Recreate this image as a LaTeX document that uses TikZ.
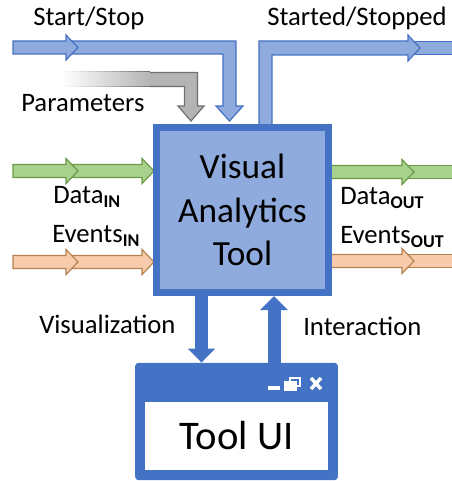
\documentclass[tikz,border=0pt]{standalone}
\usepackage{fontspec}
\setmainfont{Carlito}
\usetikzlibrary{arrows.meta}

\definecolor{darkblue}{HTML}{4472C4}
\definecolor{lightblue}{HTML}{8FAADC}
\definecolor{greenfill}{HTML}{A9D18E}
\definecolor{greenline}{HTML}{6A9A48}
\definecolor{orangefill}{HTML}{F8CBAD}
\definecolor{orangeline}{HTML}{B4834F}
\definecolor{grayfill}{HTML}{B4B4B4}
\definecolor{grayline}{HTML}{707070}

% block arrow: style, x start, x tip, y centre
\newcommand{\blockarrow}[4]{%
  \filldraw[#1] (#2,#4-6.5) -- (#3-12,#4-6.5) -- (#3-12,#4-12.5) -- (#3,#4)
    -- (#3-12,#4+12.5) -- (#3-12,#4+6.5) -- (#2,#4+6.5) -- cycle;}
% plain band: style, x start, x end, y centre
\newcommand{\blockband}[4]{%
  \filldraw[#1] (#2,#4-6.5) rectangle (#3,#4+6.5);}
\newcommand{\sub}[1]{\raisebox{-0.35ex}{\fontsize{13.5}{13.5}\selectfont\bfseries #1}}

\begin{document}
\begin{tikzpicture}[x=0.75pt,y=-0.75pt,
    blueband/.style={fill=lightblue,draw=darkblue,line width=0.9pt},
    greenband/.style={fill=greenfill,draw=greenline,line width=0.9pt},
    orangeband/.style={fill=orangefill,draw=orangeline,line width=0.9pt},
    label/.style={anchor=base west,inner sep=0pt,font=\fontsize{20}{20}\selectfont},
    bigarrow/.style={darkblue,line width=9.75pt,-{Triangle[width=20pt,length=10.5pt]}}]
    \useasboundingbox (0,0) rectangle (452,481);

    % Start/Stop
    \filldraw[blueband] (67,41) -- (236,41) -- (236,106) -- (243,106) -- (229.5,121)
      -- (216,106) -- (223,106) -- (223,54) -- (67,54) -- cycle;
    \blockarrow{blueband}{13}{78}{47.5}

    % Parameters
    \shade[left color=white,right color=grayline] (62,72) rectangle (150,87);
    \shade[left color=white,right color=grayfill] (62,73) rectangle (151,86);
    \fill[grayfill] (150,73) -- (197.5,73) -- (197.5,106) -- (204,106) -- (191,121)
      -- (178,106) -- (184.5,106) -- (184.5,86) -- (150,86) -- cycle;
    \draw[grayline,line width=0.9pt] (150,72.5) -- (197.5,72.5) -- (197.5,106) -- (204,106)
      -- (191,121) -- (178,106) -- (184.5,106) -- (184.5,86.5) -- (150,86.5);

    % Started/Stopped
    \blockband{blueband}{408}{470}{48}
    \filldraw[blueband] (259,130) -- (259,41) -- (408,41) -- (408,35) -- (420,48)
      -- (408,61) -- (408,55) -- (272,55) -- (272,130) -- cycle;

    % inputs
    \blockarrow{greenband}{66}{154}{171}
    \blockarrow{greenband}{13}{78}{171}
    \blockarrow{orangeband}{66}{154}{262}
    \blockarrow{orangeband}{13}{78}{262}

    % outputs
    \blockband{greenband}{402}{470}{172}
    \blockarrow{greenband}{325}{414}{172}
    \blockband{orangeband}{402}{470}{261}
    \blockarrow{orangeband}{325}{414}{261}

    % tool
    \node[draw=darkblue,fill=lightblue,line width=5pt,minimum width=129pt,minimum height=124pt,
      align=center,font=\fontsize{26.5}{32.6}\selectfont] (tool) at (242.5,210)
      {Visual\\Analytics\\Tool};

    % window
    \node[fill=darkblue,rounded corners=2.5pt,minimum width=152pt,minimum height=88pt] (win)
      at (236.5,421.5) {};
    \node[fill=white,minimum width=137pt,minimum height=51pt,inner sep=0pt,
      font=\fontsize{30.5}{30.5}\selectfont] (ui) at (236.5,436) {Tool UI};
    \fill[white] (268,386) rectangle (280,390);
    \draw[white,line width=1.3pt] (290,378) rectangle (300,386);
    \filldraw[fill=white,draw=white,line width=1pt] (285,382) rectangle (296,390);
    \draw[white,line width=2.6pt] (311,378) -- (321,389) (321,378) -- (311,389);

    % ui arrows
    \coordinate (vis) at (201.5,0);
    \coordinate (inter) at (274,0);
    \draw[bigarrow] (vis |- tool.south) -- (vis |- win.north);
    \draw[bigarrow] (inter |- win.north) -- (inter |- tool.south);

    % labels
    \node[label] (startstop) at (33,26) {Start/Stop};
    \node[label] (params) at (21,112) {Parameters};
    \node[label] (started) at (267,26) {Started/Stopped};
    \node[label] (datain) at (53,203) {Data\sub{IN}};
    \node[label] (eventsin) at (52,242) {Events\sub{IN}};
    \node[label] (dataout) at (340,204) {Data\sub{OUT}};
    \node[label] (eventsout) at (340,243) {Events\sub{OUT}};
    \node[label] (vislabel) at (39,333) {Visualization};
    \node[label] (interlabel) at (303,335) {Interaction};
\end{tikzpicture}
\end{document}
